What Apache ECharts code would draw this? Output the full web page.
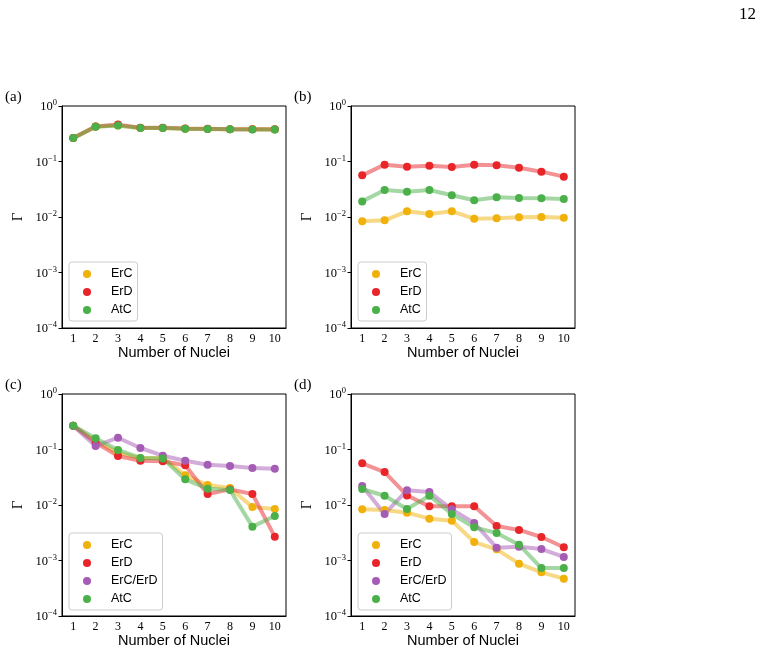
<!DOCTYPE html>
<html>
<head>
<meta charset="utf-8">
<script src="https://cdn.jsdelivr.net/npm/echarts@6/dist/echarts.min.js"></script>
<style>
  html, body { margin: 0; padding: 0; background: #fff; }
  #main { width: 767px; height: 655px; }
</style>
</head>
<body>
<div id="main"></div>
<script>
// number of nuclei (x categories)
const nuclei = ['1', '2', '3', '4', '5', '6', '7', '8', '9', '10'];
const yTicks = [1e-4, 1e-3, 1e-2, 1e-1, 1];

// (a)
const aErC = [0.265, 0.425, 0.445, 0.402, 0.401, 0.390, 0.386, 0.381, 0.380, 0.379];
const aErD = [0.266, 0.428, 0.462, 0.405, 0.405, 0.392, 0.388, 0.383, 0.381, 0.380];
const aAtC = [0.264, 0.424, 0.443, 0.401, 0.400, 0.389, 0.385, 0.380, 0.379, 0.378];
// (b)
const bErC = [0.00835, 0.0087, 0.01265, 0.0113, 0.01265, 0.00933, 0.00946, 0.00986, 0.0100, 0.00973];
const bErD = [0.0563, 0.0877, 0.0807, 0.0841, 0.0796, 0.0877, 0.0853, 0.0774, 0.0656, 0.0533];
const bAtC = [0.0191, 0.0306, 0.0286, 0.0306, 0.0246, 0.0200, 0.0226, 0.0220, 0.0217, 0.0211];
// (c)
const cErC = [0.269, 0.142, 0.0877, 0.0693, 0.0709, 0.0343, 0.0229, 0.0202, 0.0092, 0.00847];
const cErD = [0.269, 0.133, 0.0764, 0.0629, 0.0612, 0.0519, 0.0158, 0.0191, 0.0158, 0.00269];
const cErCErD = [0.269, 0.1156, 0.163, 0.1064, 0.0774, 0.0629, 0.0533, 0.0504, 0.0464, 0.0451];
const cAtC = [0.269, 0.159, 0.098, 0.0703, 0.069, 0.029, 0.0197, 0.0186, 0.00407, 0.00634];
// (d)
const dErC = [0.00835, 0.00813, 0.00727, 0.00567, 0.00522, 0.00215, 0.00159, 0.000877, 0.000612, 0.000471];
const dErD = [0.0563, 0.0393, 0.0149, 0.00946, 0.00946, 0.00946, 0.00419, 0.00355, 0.00265, 0.00173];
const dErCErD = [0.0220, 0.00689, 0.0184, 0.0171, 0.00835, 0.00474, 0.00170, 0.00177, 0.00161, 0.00116];
const dAtC = [0.0194, 0.0147, 0.00847, 0.0147, 0.00689, 0.00396, 0.00313, 0.00193, 0.00073, 0.00073];

const colors = { 'ErC': '#efb10a', 'ErD': '#e8262a', 'ErC/ErD': '#a55cb4', 'AtC': '#4cb04a' };

const panels = [
  { tag: '(a)', left: 62, top: 106, series: [['ErC', aErC], ['ErD', aErD], ['AtC', aAtC]] },
  { tag: '(b)', left: 351, top: 106, series: [['ErC', bErC], ['ErD', bErD], ['AtC', bAtC]] },
  { tag: '(c)', left: 62, top: 394, series: [['ErC', cErC], ['ErD', cErD], ['ErC/ErD', cErCErD], ['AtC', cAtC]] },
  { tag: '(d)', left: 351, top: 394, series: [['ErC', dErC], ['ErD', dErD], ['ErC/ErD', dErCErD], ['AtC', dAtC]] }
];

const serif = 'Liberation Serif';
const sans = 'Liberation Sans';

const grid = [], xAxis = [], yAxis = [], series = [], legend = [], graphic = [];

panels.forEach(function (p, i) {
  grid.push({
    left: p.left, top: p.top, width: 224, height: 222,
    show: true, borderColor: '#000', borderWidth: 1, backgroundColor: 'transparent'
  });
  xAxis.push({
    type: 'category', gridIndex: i, data: nuclei, boundaryGap: true,
    name: 'Number of Nuclei', nameLocation: 'middle', nameGap: 15,
    nameTextStyle: { fontFamily: sans, fontSize: 14.5, color: '#000', verticalAlign: 'top' },
    axisLine: { lineStyle: { color: '#000', width: 1 } },
    axisTick: { alignWithLabel: true, length: 3.5, lineStyle: { color: '#000' } },
    axisLabel: { fontFamily: serif, fontSize: 12, color: '#000', margin: 5, interval: 0 },
    splitLine: { show: false }
  });
  yAxis.push({
    type: 'log', logBase: 10, gridIndex: i, min: yTicks[0], max: yTicks[yTicks.length - 1],
    name: 'Γ', nameLocation: 'middle', nameGap: 36, nameRotate: 90,
    nameTextStyle: { fontFamily: serif, fontSize: 15, color: '#000' },
    axisLine: { show: true, lineStyle: { color: '#000', width: 1 } },
    axisTick: { show: true, length: 3.5, lineStyle: { color: '#000' } },
    minorTick: { show: false },
    splitLine: { show: false },
    axisLabel: {
      margin: 5, color: '#000',
      formatter: function (v) {
        const e = Math.round(Math.log10(v));
        return '{b|10}{s|' + (e < 0 ? '\u2212' + (-e) : e) + '}';
      },
      rich: {
        b: { fontFamily: serif, fontSize: 12.5, color: '#000', lineHeight: 15, verticalAlign: 'bottom' },
        s: { fontFamily: serif, fontSize: 8.5, color: '#000', lineHeight: 15, verticalAlign: 'top' }
      }
    }
  });
  p.series.forEach(function (s) {
    series.push({
      name: s[0], type: 'line', xAxisIndex: i, yAxisIndex: i, data: s[1],
      showSymbol: false, z: 2,
      itemStyle: { color: colors[s[0]] },
      lineStyle: { color: colors[s[0]], width: 4, opacity: 0.5 },
      emphasis: { disabled: true }, animation: false
    });
  });
  p.series.forEach(function (s) {
    series.push({
      name: s[0], type: 'scatter', xAxisIndex: i, yAxisIndex: i, data: s[1],
      symbol: 'circle', symbolSize: 8, z: 3,
      itemStyle: { color: colors[s[0]], opacity: 1 },
      emphasis: { disabled: true }, animation: false
    });
  });
  legend.push({
    orient: 'vertical', left: p.left + 7, top: p.top + (p.series.length === 4 ? 139 : 156),
    data: p.series.map(function (s) { return s[0]; }),
    icon: 'circle', itemWidth: 8, itemHeight: 8, itemGap: 4,
    padding: [5, 5, 4, 14],
    backgroundColor: 'rgba(255,255,255,0.8)', borderColor: '#cccccc', borderWidth: 1, borderRadius: 3,
    selectedMode: false,
    textStyle: { fontFamily: sans, fontSize: 12.5, color: '#000', lineHeight: 14, padding: [0, 0, 0, 15] }
  });
  graphic.push({
    type: 'text', left: p.left - 57, top: p.top - 16,
    style: { text: p.tag, font: '15px "' + serif + '"', fill: '#000' }
  });
});

graphic.push({
  type: 'text', left: 739, top: 6,
  style: { text: '12', font: '17px "' + serif + '"', fill: '#000' }
});

const chart = echarts.init(document.getElementById('main'), null, { renderer: 'canvas' });
chart.setOption({
  backgroundColor: '#fff',
  animation: false,
  grid: grid,
  xAxis: xAxis,
  yAxis: yAxis,
  legend: legend,
  graphic: graphic,
  series: series
});
</script>
</body>
</html>
